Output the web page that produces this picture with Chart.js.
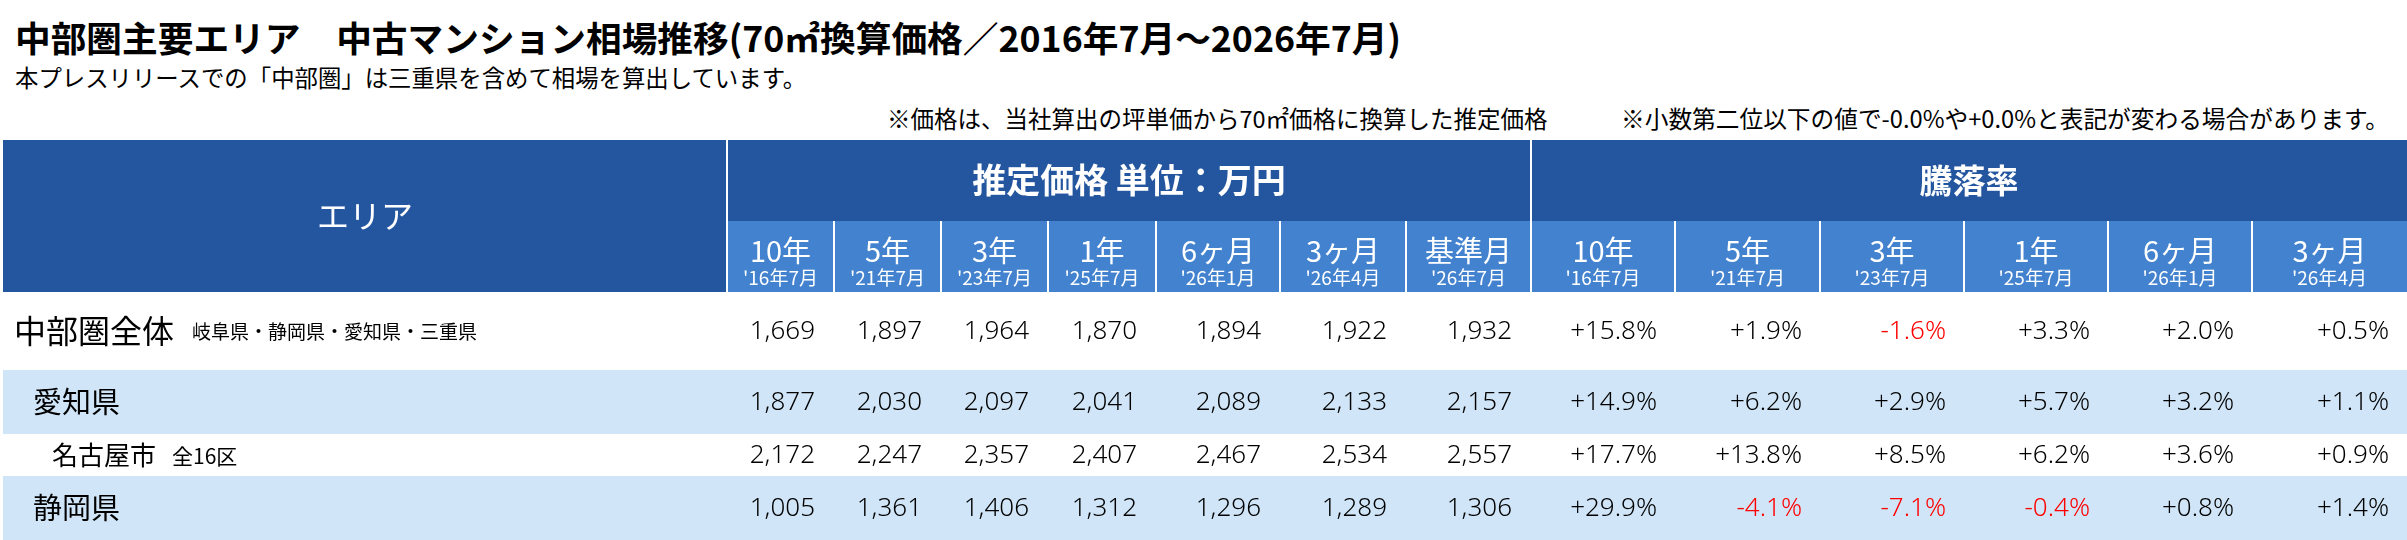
<!DOCTYPE html>
<html lang="ja">
<head>
<meta charset="utf-8">
<script src="https://cdn.jsdelivr.net/npm/chart.js@4.4.1/dist/chart.umd.min.js"></script>
<style>
  html, body { margin: 0; padding: 0; background: #fff; width: 2407px; height: 540px; overflow: hidden; }
  body { font-family: "Noto Sans CJK JP", "Noto Sans", sans-serif; color: #000; position: relative; }
  .t { position: absolute; white-space: nowrap; line-height: 1; }
  #title { left: 15px; top: 19px; font-size: 35.7px; font-weight: 700; }
  #sub { left: 15px; top: 66px; font-size: 23.4px; }
  #note1 { left: 887px; top: 107px; font-size: 23.5px; }
  #note2 { right: 18px; top: 107px; font-size: 23.7px; }
  #wrap { position: absolute; left: 0; top: 140px; width: 2407px; height: 400px; }
</style>
</head>
<body>
<div class="t" id="title">中部圏主要エリア　中古マンション相場推移(70㎡換算価格／2016年7月～2026年7月)</div>
<div class="t" id="sub">本プレスリリースでの「中部圏」は三重県を含めて相場を算出しています。</div>
<div class="t" id="note1">※価格は、当社算出の坪単価から70㎡価格に換算した推定価格</div>
<div class="t" id="note2">※小数第二位以下の値で-0.0%や+0.0%と表記が変わる場合があります。</div>
<div id="wrap"><canvas id="c" width="2407" height="400"></canvas></div>
<script>
// ---- data ----
const areas = ['中部圏全体', '愛知県', '名古屋市', '静岡県'];
const areaNotes = ['岐阜県・静岡県・愛知県・三重県', '', '全16区', ''];
const areaHeader = 'エリア';
const priceHeader = '推定価格 単位：万円';
const rateHeader = '騰落率';
const pricePeriods = ['10年', '5年', '3年', '1年', '6ヶ月', '3ヶ月', '基準月'];
const priceDates = ["'16年7月", "'21年7月", "'23年7月", "'25年7月", "'26年1月", "'26年4月", "'26年7月"];
const ratePeriods = ['10年', '5年', '3年', '1年', '6ヶ月', '3ヶ月'];
const rateDates = ["'16年7月", "'21年7月", "'23年7月", "'25年7月", "'26年1月", "'26年4月"];

const priceChubu    = [1669, 1897, 1964, 1870, 1894, 1922, 1932];
const priceAichi    = [1877, 2030, 2097, 2041, 2089, 2133, 2157];
const priceNagoya   = [2172, 2247, 2357, 2407, 2467, 2534, 2557];
const priceShizuoka = [1005, 1361, 1406, 1312, 1296, 1289, 1306];

const rateChubu    = [15.8, 1.9, -1.6, 3.3, 2.0, 0.5];
const rateAichi    = [14.9, 6.2, 2.9, 5.7, 3.2, 1.1];
const rateNagoya   = [17.7, 13.8, 8.5, 6.2, 3.6, 0.9];
const rateShizuoka = [29.9, -4.1, -7.1, -0.4, 0.8, 1.4];

const prices = [priceChubu, priceAichi, priceNagoya, priceShizuoka];
const rates = [rateChubu, rateAichi, rateNagoya, rateShizuoka];

// ---- layout (scale units) ----
const TABLE_W = 2407, TABLE_H = 400;
const AREA_COL = [3, 727];
const PRICE_EDGES = [727, 834, 941, 1048, 1156, 1280, 1406, 1531];
const RATE_EDGES = [1531, 1675, 1820, 1964, 2108, 2252, 2407];
const HEAD1 = [0, 81], HEAD2 = [81, 152];
const ROW_EDGES = [152, 230, 294, 336, 400];
const ROW_STYLE = [
  { size: 32, indent: 14, noteSize: 19, noteGap: 18, fill: '#ffffff' },
  { size: 29, indent: 33, noteSize: 19, noteGap: 18, fill: '#d0e6f8' },
  { size: 26, indent: 52, noteSize: 21, noteGap: 16, fill: '#ffffff' },
  { size: 29, indent: 33, noteSize: 19, noteGap: 18, fill: '#d0e6f8' }
];
const DARK = '#2456a0', MID = '#4282ce';
const FONT = '"Noto Sans CJK JP", "Noto Sans", sans-serif';
const NUMFONT = '"Noto Sans", "Noto Sans CJK JP", sans-serif';

const tablePlugin = {
  id: 'tableDraw',
  afterDraw(chart) {
    const ctx = chart.ctx;
    const sx = chart.scales.x, sy = chart.scales.y;
    const X = v => sx.getPixelForValue(v);
    const Y = v => sy.getPixelForValue(v);
    const rect = (x0, x1, y0, y1, col) => { ctx.fillStyle = col; ctx.fillRect(X(x0), Y(y0), X(x1) - X(x0), Y(y1) - Y(y0)); };
    const vline = (x, y0, y1) => { ctx.fillStyle = '#ffffff'; ctx.fillRect(X(x) - 1, Y(y0), 2, Y(y1) - Y(y0)); };
    const text = (s, x, y, font, col, align) => {
      ctx.font = font; ctx.fillStyle = col; ctx.textAlign = align; ctx.textBaseline = 'middle'; ctx.fillText(s, X(x), Y(y));
    };
    ctx.save();
    // row stripes
    areas.forEach((a, i) => rect(AREA_COL[0], TABLE_W, ROW_EDGES[i], ROW_EDGES[i + 1], ROW_STYLE[i].fill));
    // header backgrounds
    rect(AREA_COL[0], TABLE_W, HEAD1[0], HEAD1[1], DARK);
    rect(AREA_COL[0], AREA_COL[1], HEAD1[0], HEAD2[1], DARK);
    rect(AREA_COL[1], TABLE_W, HEAD2[0], HEAD2[1], MID);
    // separators
    vline(AREA_COL[1], HEAD1[0], HEAD2[1]);
    vline(RATE_EDGES[0], HEAD1[0], HEAD2[1]);
    PRICE_EDGES.slice(1, -1).forEach(e => vline(e, HEAD2[0], HEAD2[1]));
    RATE_EDGES.slice(1, -1).forEach(e => vline(e, HEAD2[0], HEAD2[1]));
    // header texts
    const hMid = (HEAD1[0] + HEAD2[1]) / 2;
    text(areaHeader, (AREA_COL[0] + AREA_COL[1]) / 2, hMid, `400 32px ${FONT}`, '#fff', 'center');
    const h1Mid = (HEAD1[0] + HEAD1[1]) / 2;
    text(priceHeader, (PRICE_EDGES[0] + PRICE_EDGES[PRICE_EDGES.length - 1]) / 2, h1Mid, `700 34px ${FONT}`, '#fff', 'center');
    text(rateHeader, (RATE_EDGES[0] + RATE_EDGES[RATE_EDGES.length - 1]) / 2, h1Mid, `700 33px ${FONT}`, '#fff', 'center');
    const bigY = HEAD2[0] + 30, smallY = HEAD2[0] + 57;
    pricePeriods.forEach((p, j) => {
      const cx = (PRICE_EDGES[j] + PRICE_EDGES[j + 1]) / 2;
      text(p, cx, bigY, `400 29px ${FONT}`, '#fff', 'center');
      text(priceDates[j], cx, smallY, `400 19px ${FONT}`, '#fff', 'center');
    });
    ratePeriods.forEach((p, j) => {
      const cx = (RATE_EDGES[j] + RATE_EDGES[j + 1]) / 2;
      text(p, cx, bigY, `400 29px ${FONT}`, '#fff', 'center');
      text(rateDates[j], cx, smallY, `400 19px ${FONT}`, '#fff', 'center');
    });
    // body
    areas.forEach((a, i) => {
      const st = ROW_STYLE[i];
      const cy = (ROW_EDGES[i] + ROW_EDGES[i + 1]) / 2;
      ctx.font = `400 ${st.size}px ${FONT}`;
      const w = ctx.measureText(a).width;
      text(a, st.indent, cy, `400 ${st.size}px ${FONT}`, '#000', 'left');
      if (areaNotes[i]) {
        text(areaNotes[i], st.indent + w + st.noteGap, cy + 1, `400 ${st.noteSize}px ${FONT}`, '#000', 'left');
      }
      prices[i].forEach((v, j) => {
        text(v.toLocaleString('en-US'), PRICE_EDGES[j + 1] - 19, cy + 1, `300 26px ${NUMFONT}`, '#000', 'right');
      });
      rates[i].forEach((v, j) => {
        const s = (v >= 0 ? '+' : '-') + Math.abs(v).toFixed(1) + '%';
        text(s, RATE_EDGES[j + 1] - 18, cy + 1, `300 26px ${NUMFONT}`, v < 0 ? '#ff0000' : '#000', 'right');
      });
    });
    ctx.restore();
  }
};

new Chart(document.getElementById('c'), {
  type: 'scatter',
  data: { datasets: [] },
  options: {
    responsive: false,
    animation: false,
    devicePixelRatio: 1,
    layout: { padding: 0 },
    plugins: { legend: { display: false }, tooltip: { enabled: false }, title: { display: false } },
    scales: {
      x: { type: 'linear', min: 0, max: TABLE_W, display: false },
      y: { type: 'linear', min: 0, max: TABLE_H, reverse: true, display: false }
    }
  },
  plugins: [tablePlugin]
});
</script>
</body>
</html>
